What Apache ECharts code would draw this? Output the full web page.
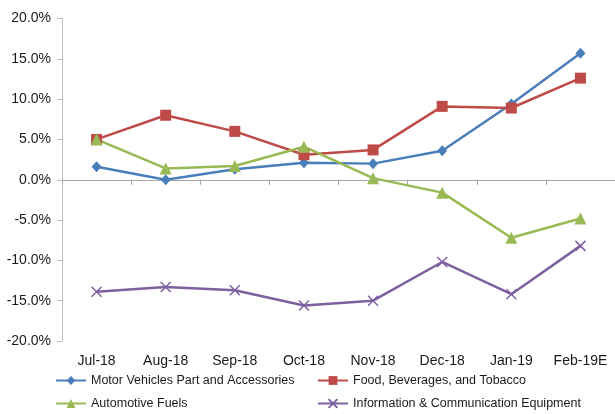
<!DOCTYPE html>
<html><head><meta charset="utf-8">
<script src="https://cdn.jsdelivr.net/npm/echarts@6/dist/echarts.min.js"></script>
<style>html,body{margin:0;padding:0;background:#fff}#c{width:615px;height:414px}</style>
</head><body><div id="c"></div>
<script>
const categories = ['Jul-18','Aug-18','Sep-18','Oct-18','Nov-18','Dec-18','Jan-19','Feb-19E'];
const motorVehicles = [1.6, 0.0, 1.3, 2.1, 2.0, 3.6, 9.4, 15.7];
const foodBeverages = [5.0, 8.0, 6.0, 3.1, 3.7, 9.1, 8.9, 12.6];
const automotiveFuels = [5.0, 1.4, 1.7, 4.1, 0.2, -1.6, -7.2, -4.8];
const infoComm = [-13.9, -13.3, -13.7, -15.6, -15.0, -10.2, -14.2, -8.2];
const seriesNames = ['Motor Vehicles Part and Accessories','Food, Beverages, and Tobacco','Automotive Fuels','Information & Communication Equipment'];

const font = 'Liberation Sans, Arial, sans-serif';
const txt = '#1a1a1a';
const chart = echarts.init(document.getElementById('c'), null, {renderer:'canvas'});
const legendBase = {orient:'horizontal', itemWidth:30, itemHeight:11, textStyle:{fontFamily:font,fontSize:12.5,color:txt}, padding:0, selectedMode:false};
chart.setOption({
  animation:false,
  backgroundColor:'#fff',
  grid:{left:62, top:18.5, width:556, height:322.5, containLabel:false},
  legend:[
    Object.assign({left:55, top:374, data:[seriesNames[0]]}, legendBase),
    Object.assign({left:317, top:374, data:[seriesNames[1]]}, legendBase),
    Object.assign({left:55, top:397, data:[seriesNames[2]]}, legendBase),
    Object.assign({left:317, top:397, data:[seriesNames[3]]}, legendBase)
  ],
  xAxis:[
    {type:'category', data:categories, position:'bottom', boundaryGap:true,
     axisLine:{show:false, onZero:false}, axisTick:{show:false},
     axisLabel:{margin:13, fontFamily:font, fontSize:14, color:txt, interval:0}},
    {type:'category', data:categories, position:'bottom', boundaryGap:true,
     axisLine:{show:true, onZero:true, lineStyle:{color:'#a6a6a6', width:1}},
     axisTick:{show:true, length:5, inside:false, lineStyle:{color:'#a6a6a6'}},
     axisLabel:{show:false}}
  ],
  yAxis:{type:'value', min:-20, max:20, interval:5,
    axisLine:{show:true, lineStyle:{color:'#bfbfbf', width:1}},
    axisTick:{show:true, length:5, lineStyle:{color:'#bfbfbf'}},
    splitLine:{show:false},
    axisLabel:{margin:11, fontFamily:font, fontSize:14, color:txt, formatter:v=>v.toFixed(1)+'%'}},
  series:[
    {name:seriesNames[0], type:'line', data:motorVehicles, symbol:'diamond', symbolSize:[10,11],
     color:'#4A7EBB', lineStyle:{width:2.5, color:'#4A7EBB'}, itemStyle:{color:'#4A7EBB'}},
    {name:seriesNames[1], type:'line', data:foodBeverages, symbol:'rect', symbolSize:11,
     color:'#BE4B48', lineStyle:{width:2.5, color:'#BE4B48'}, itemStyle:{color:'#BE4B48'}},
    {name:seriesNames[2], type:'line', data:automotiveFuels, symbol:'triangle', symbolSize:12,
     color:'#98B954', lineStyle:{width:2.5, color:'#98B954'}, itemStyle:{color:'#98B954'}},
    {name:seriesNames[3], type:'line', data:infoComm, symbol:'path://M0,0L10,10M10,0L0,10', symbolSize:10,
     color:'#7D60A0', lineStyle:{width:2.5, color:'#7D60A0'}, itemStyle:{color:'#7D60A0', borderColor:'#7D60A0', borderWidth:1.5}}
  ]
});
</script></body></html>
